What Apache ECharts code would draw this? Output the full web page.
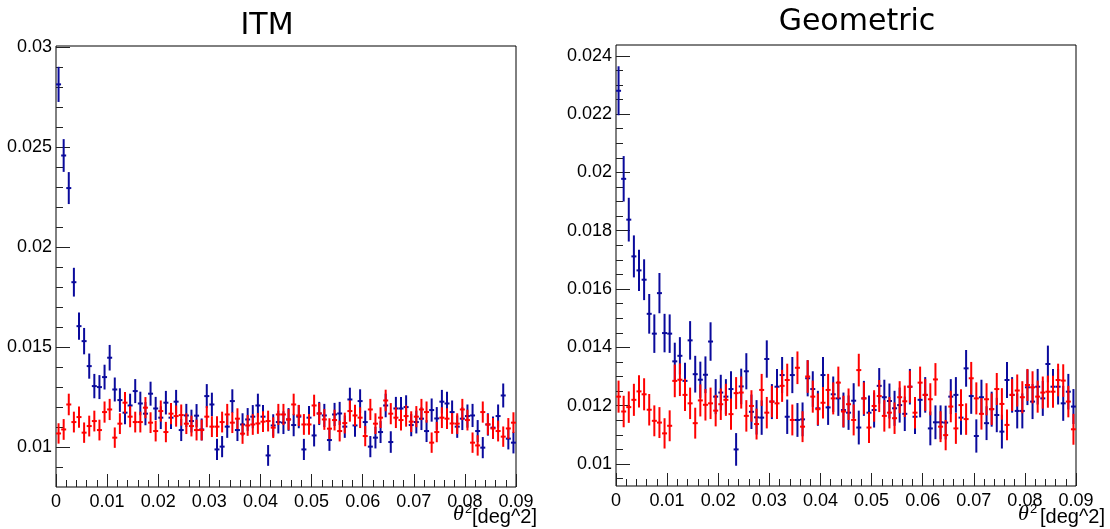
<!DOCTYPE html>
<html>
<head>
<meta charset="utf-8">
<script src="https://cdn.jsdelivr.net/npm/echarts@6/dist/echarts.min.js"></script>
<style>
  html, body { margin: 0; padding: 0; background: #ffffff; }
  #chart { width: 1110px; height: 529px; }
</style>
</head>
<body>
<div id="chart"></div>
<script>
// theta^2 histogram: 90 bins of 0.001 deg^2 from 0 to 0.09
const BIN_WIDTH = 0.001;
const N_BINS = 90;
const thetaSqCenters = Array.from({ length: N_BINS }, (_, i) => +((i + 0.5) * BIN_WIDTH).toFixed(4));

const panelTitles = ['ITM', 'Geometric'];

// tick positions and labels
const xMajorTicks = [0, 0.01, 0.02, 0.03, 0.04, 0.05, 0.06, 0.07, 0.08, 0.09];
const xMinorTicks = [0.002, 0.004, 0.006, 0.008, 0.012, 0.014, 0.016, 0.018, 0.022, 0.024, 0.026, 0.028,
  0.032, 0.034, 0.036, 0.038, 0.042, 0.044, 0.046, 0.048, 0.052, 0.054, 0.056, 0.058,
  0.062, 0.064, 0.066, 0.068, 0.072, 0.074, 0.076, 0.078, 0.082, 0.084, 0.086, 0.088];
const itmYMajorTicks = [0.01, 0.015, 0.02, 0.025, 0.03];
const itmYMinorTicks = [0.009, 0.011, 0.012, 0.013, 0.014, 0.016, 0.017, 0.018, 0.019,
  0.021, 0.022, 0.023, 0.024, 0.026, 0.027, 0.028, 0.029];
const geoYMajorTicks = [0.01, 0.012, 0.014, 0.016, 0.018, 0.02, 0.022, 0.024];
const geoYMinorTicks = [0.0095, 0.0105, 0.011, 0.0115, 0.0125, 0.013, 0.0135, 0.0145, 0.015, 0.0155,
  0.0165, 0.017, 0.0175, 0.0185, 0.019, 0.0195, 0.0205, 0.021, 0.0215, 0.0225, 0.023, 0.0235];

// ITM panel, blue histogram
const itmBlue = [
  0.02815, 0.02459, 0.02296, 0.01825, 0.01605, 0.0153, 0.01405, 0.01305, 0.0130, 0.0135,
  0.01447, 0.01288, 0.01235, 0.01172, 0.01208, 0.0128, 0.01218, 0.01167, 0.01267, 0.01193,
  0.01147, 0.01222, 0.01147, 0.01227, 0.01085, 0.01158, 0.0113, 0.01157, 0.01088, 0.01255,
  0.01213, 0.00988, 0.01002, 0.01102, 0.0123, 0.01085, 0.01113, 0.01138, 0.01152, 0.01208,
  0.01152, 0.00958, 0.01108, 0.01125, 0.01122, 0.01138, 0.0111, 0.01152, 0.00988, 0.01147,
  0.01058, 0.01168, 0.01158, 0.01035, 0.01163, 0.01168, 0.01102, 0.01238, 0.01108, 0.0123,
  0.01125, 0.01002, 0.01047, 0.01075, 0.01208, 0.01025, 0.01193, 0.01193, 0.012, 0.0111,
  0.01125, 0.01142, 0.0108, 0.01185, 0.01143, 0.01227, 0.01218, 0.01175, 0.01102, 0.01142,
  0.01155, 0.01158, 0.0108, 0.00997, 0.01113, 0.01097, 0.01155, 0.01258, 0.01042, 0.01022
];
const itmBlueErr = [
  0.00088, 0.00082, 0.0008, 0.00072, 0.00068, 0.00066, 0.00063, 0.00061, 0.0006, 0.00062,
  0.00064, 0.0006, 0.00059, 0.00058, 0.00059, 0.0006, 0.00059, 0.00058, 0.0006, 0.00058,
  0.00057, 0.00059, 0.00057, 0.00059, 0.00055, 0.00058, 0.00057, 0.00058, 0.00055, 0.0006,
  0.00059, 0.00053, 0.00053, 0.00056, 0.00059, 0.00055, 0.00056, 0.00057, 0.00058, 0.00059,
  0.00058, 0.00052, 0.00056, 0.00057, 0.00057, 0.00057, 0.00056, 0.00058, 0.00053, 0.00058,
  0.00055, 0.00058, 0.00058, 0.00054, 0.00058, 0.00058, 0.00056, 0.00059, 0.00056, 0.00059,
  0.00057, 0.00053, 0.00054, 0.00055, 0.00059, 0.00054, 0.00058, 0.00058, 0.00059, 0.00056,
  0.00057, 0.00057, 0.00055, 0.00058, 0.00057, 0.00059, 0.00059, 0.00058, 0.00056, 0.00057,
  0.00058, 0.00058, 0.00055, 0.00053, 0.00056, 0.00056, 0.00058, 0.0006, 0.00054, 0.00054
];

// ITM panel, red histogram
const itmRed = [
  0.01068, 0.01088, 0.01213, 0.01125, 0.0115, 0.01072, 0.01105, 0.0113, 0.01085, 0.01175,
  0.01188, 0.01047, 0.01117, 0.01222, 0.01152, 0.01125, 0.01125, 0.01197, 0.01122, 0.0108,
  0.0118, 0.01075, 0.01167, 0.01155, 0.0116, 0.01117, 0.01105, 0.01085, 0.01085, 0.01152,
  0.01102, 0.01102, 0.01125, 0.01163, 0.01122, 0.01142, 0.01067, 0.01108, 0.01113, 0.01118,
  0.01127, 0.0113, 0.01097, 0.01163, 0.01163, 0.01138, 0.01213, 0.01158, 0.01113, 0.01113,
  0.01208, 0.01168, 0.01138, 0.01092, 0.01135, 0.0108, 0.0112, 0.0118, 0.01158, 0.01147,
  0.01055, 0.01188, 0.01117, 0.01147, 0.01233, 0.01167, 0.01147, 0.01135, 0.01155, 0.01127,
  0.01152, 0.01188, 0.01175, 0.01022, 0.01075, 0.01147, 0.01142, 0.01118, 0.01117, 0.01188,
  0.01135, 0.01022, 0.01008, 0.01175, 0.01113, 0.01093, 0.0108, 0.01052, 0.01093, 0.01122
];
const itmRedErr = [
  0.00051, 0.00052, 0.00054, 0.00052, 0.00053, 0.00051, 0.00052, 0.00052, 0.00052, 0.00053,
  0.00053, 0.00051, 0.00052, 0.00054, 0.00053, 0.00052, 0.00052, 0.00053, 0.00052, 0.00052,
  0.00053, 0.00051, 0.00053, 0.00053, 0.00053, 0.00052, 0.00052, 0.00052, 0.00052, 0.00053,
  0.00052, 0.00052, 0.00052, 0.00053, 0.00052, 0.00052, 0.00051, 0.00052, 0.00052, 0.00052,
  0.00052, 0.00052, 0.00052, 0.00053, 0.00053, 0.00052, 0.00054, 0.00053, 0.00052, 0.00052,
  0.00054, 0.00053, 0.00052, 0.00052, 0.00052, 0.00052, 0.00052, 0.00053, 0.00053, 0.00052,
  0.00051, 0.00053, 0.00052, 0.00052, 0.00054, 0.00053, 0.00052, 0.00052, 0.00053, 0.00052,
  0.00053, 0.00053, 0.00053, 0.00051, 0.00051, 0.00052, 0.00052, 0.00052, 0.00052, 0.00053,
  0.00052, 0.00051, 0.00051, 0.00053, 0.00052, 0.00052, 0.00052, 0.00051, 0.00052, 0.00052
];

// Geometric panel, blue histogram
const geoBlue = [
  0.0228, 0.01978, 0.01838, 0.01712, 0.01664, 0.01632, 0.01515, 0.01447, 0.01586, 0.01449,
  0.01447, 0.01352, 0.01371, 0.01285, 0.01424, 0.01308, 0.01289, 0.01306, 0.0142, 0.01231,
  0.01245, 0.01231, 0.01257, 0.0105, 0.01266, 0.01318, 0.01179, 0.0116, 0.01159, 0.0136,
  0.01214, 0.01265, 0.01305, 0.01162, 0.01305, 0.01151, 0.01153, 0.01294, 0.01257, 0.01191,
  0.01305, 0.01194, 0.01239, 0.01225, 0.01185, 0.01176, 0.01217, 0.01125, 0.01225, 0.01176,
  0.01185, 0.01268, 0.01229, 0.01216, 0.01191, 0.01202, 0.01172, 0.01265, 0.01162, 0.0122,
  0.01237, 0.01122, 0.01143, 0.01143, 0.01142, 0.01231, 0.01237, 0.01159, 0.01328, 0.01233,
  0.01096, 0.01229, 0.0114, 0.01188, 0.01168, 0.01111, 0.01288, 0.01237, 0.01182, 0.01182,
  0.01263, 0.01214, 0.01265, 0.01225, 0.01343, 0.01265, 0.01265, 0.01208, 0.01248, 0.01197
];
const geoBlueErr = [
  0.00084, 0.00078, 0.00075, 0.00072, 0.00071, 0.0007, 0.00068, 0.00066, 0.00069, 0.00066,
  0.00066, 0.00064, 0.00064, 0.00062, 0.00066, 0.00063, 0.00062, 0.00063, 0.00066, 0.0006,
  0.00061, 0.0006, 0.00061, 0.00056, 0.00061, 0.00062, 0.00059, 0.00059, 0.00059, 0.00064,
  0.0006, 0.00061, 0.00062, 0.00059, 0.00062, 0.00058, 0.00058, 0.00062, 0.00061, 0.0006,
  0.00062, 0.0006, 0.00061, 0.0006, 0.0006, 0.00059, 0.0006, 0.00058, 0.0006, 0.00059,
  0.0006, 0.00061, 0.0006, 0.0006, 0.0006, 0.0006, 0.00059, 0.00061, 0.00059, 0.0006,
  0.00061, 0.00058, 0.00058, 0.00058, 0.00058, 0.0006, 0.00061, 0.00059, 0.00063, 0.00061,
  0.00057, 0.0006, 0.00058, 0.0006, 0.00059, 0.00058, 0.00062, 0.00061, 0.0006, 0.0006,
  0.00061, 0.0006, 0.00061, 0.0006, 0.00063, 0.00061, 0.00061, 0.0006, 0.00061, 0.0006
];

// Geometric panel, red histogram
const geoRed = [
  0.01231, 0.0118, 0.01195, 0.0122, 0.01249, 0.01239, 0.01186, 0.01148, 0.01142, 0.01105,
  0.01131, 0.01285, 0.01289, 0.01237, 0.01208, 0.0114, 0.01218, 0.01203, 0.01208, 0.01183,
  0.01205, 0.0122, 0.01171, 0.01243, 0.01245, 0.01165, 0.01199, 0.01137, 0.01254, 0.01176,
  0.01214, 0.01208, 0.01268, 0.01288, 0.01151, 0.0133, 0.01128, 0.013, 0.01231, 0.01188,
  0.0121, 0.01254, 0.01225, 0.01279, 0.0118, 0.01205, 0.01151, 0.01322, 0.01225, 0.01125,
  0.01199, 0.01233, 0.01165, 0.01176, 0.01157, 0.01229, 0.01215, 0.01265, 0.01176, 0.01279,
  0.01237, 0.01222, 0.0129, 0.01128, 0.01099, 0.01197, 0.01122, 0.01202, 0.01154, 0.01294,
  0.01225, 0.01172, 0.01222, 0.01188, 0.01257, 0.01206, 0.01134, 0.01237, 0.01252, 0.01229,
  0.01271, 0.01263, 0.01231, 0.01245, 0.01248, 0.01248, 0.01288, 0.01286, 0.01214, 0.01119
];
const geoRedErr = [
  0.00055, 0.00054, 0.00054, 0.00055, 0.00055, 0.00055, 0.00054, 0.00053, 0.00053, 0.00052,
  0.00053, 0.00056, 0.00056, 0.00055, 0.00054, 0.00053, 0.00055, 0.00054, 0.00054, 0.00054,
  0.00054, 0.00055, 0.00054, 0.00055, 0.00055, 0.00054, 0.00054, 0.00053, 0.00055, 0.00054,
  0.00054, 0.00054, 0.00055, 0.00056, 0.00053, 0.00056, 0.00053, 0.00056, 0.00055, 0.00054,
  0.00054, 0.00055, 0.00055, 0.00055, 0.00054, 0.00054, 0.00053, 0.00056, 0.00055, 0.00053,
  0.00054, 0.00055, 0.00054, 0.00054, 0.00054, 0.00055, 0.00054, 0.00055, 0.00054, 0.00055,
  0.00055, 0.00055, 0.00056, 0.00053, 0.00052, 0.00054, 0.00053, 0.00054, 0.00054, 0.00056,
  0.00055, 0.00054, 0.00055, 0.00054, 0.00055, 0.00054, 0.00053, 0.00055, 0.00055, 0.00055,
  0.00055, 0.00055, 0.00055, 0.00055, 0.00055, 0.00055, 0.00056, 0.00056, 0.00054, 0.00053
];

const BLUE = '#0a0a9c';
const RED = '#ff0000';
const LABEL_FONT = 'Liberation Sans, Arial, sans-serif';

function fmt(v) { return String(+v.toFixed(4)); }

// vertical error bar with a short horizontal marker at the bin value
function errorBar(color) {
  return function (params, api) {
    const x = api.value(0), y = api.value(1), e = api.value(2);
    const c = api.coord([x, y]);
    const hi = api.coord([x, y + e]);
    const lo = api.coord([x, y - e]);
    const style = { stroke: color, lineWidth: 2 };
    return {
      type: 'group',
      children: [
        { type: 'line', shape: { x1: c[0], y1: hi[1], x2: c[0], y2: lo[1] }, style: style },
        { type: 'line', shape: { x1: c[0] - 2.5, y1: c[1], x2: c[0] + 2.5, y2: c[1] }, style: style }
      ]
    };
  };
}

function histSeries(values, errs, color, axisIdx) {
  return {
    type: 'custom',
    xAxisIndex: axisIdx,
    yAxisIndex: axisIdx,
    clip: true,
    renderItem: errorBar(color),
    encode: { x: 0, y: 1 },
    data: thetaSqCenters.map((x, i) => [x, values[i], errs[i]])
  };
}

function xAxes(gridIndex) {
  return [
    {
      gridIndex, type: 'value', min: 0, max: 0.09, position: 'bottom',
      axisLine: { show: false }, splitLine: { show: false },
      axisTick: { inside: true, length: 13, customValues: xMajorTicks, lineStyle: { color: '#222', width: 1 } },
      axisLabel: { customValues: xMajorTicks, formatter: fmt, fontSize: 18, fontFamily: LABEL_FONT, color: '#000', margin: 6 }
    },
    {
      gridIndex, type: 'value', min: 0, max: 0.09, position: 'bottom',
      axisLine: { show: false }, splitLine: { show: false }, axisLabel: { show: false },
      axisTick: { inside: true, length: 7, customValues: xMinorTicks, lineStyle: { color: '#222', width: 1 } }
    }
  ];
}

function yAxes(gridIndex, min, max, major, minor) {
  return [
    {
      gridIndex, type: 'value', min, max, position: 'left',
      axisLine: { show: false }, splitLine: { show: false },
      axisTick: { inside: true, length: 14, customValues: major, lineStyle: { color: '#222', width: 1 } },
      axisLabel: { customValues: major, formatter: fmt, fontSize: 18, fontFamily: LABEL_FONT, color: '#000', margin: 4 }
    },
    {
      gridIndex, type: 'value', min, max, position: 'left',
      axisLine: { show: false }, splitLine: { show: false }, axisLabel: { show: false },
      axisTick: { inside: true, length: 7, customValues: minor, lineStyle: { color: '#222', width: 1 } }
    }
  ];
}

// "θ²[deg^2]" title under the right end of each x axis
function axisTitle(rightEdge, thetaLeft) {
  return {
    type: 'group',
    children: [
      { type: 'text', style: { x: thetaLeft, y: 525, text: 'θ', font: 'italic 22px "Liberation Serif", serif', fill: '#000', verticalAlign: 'bottom', align: 'left' } },
      { type: 'text', style: { x: thetaLeft + 12, y: 516, text: '2', font: '13px "Liberation Sans", sans-serif', fill: '#000', verticalAlign: 'bottom', align: 'left' } },
      { type: 'text', style: { x: rightEdge, y: 527, text: '[deg^2]', font: '20px "Liberation Sans", sans-serif', fill: '#000', verticalAlign: 'bottom', align: 'right' } }
    ]
  };
}

const chart = echarts.init(document.getElementById('chart'), null, { renderer: 'canvas' });

chart.setOption({
  animation: false,
  backgroundColor: '#ffffff',
  grid: [
    { left: 56, top: 46, width: 460, height: 441, show: true, borderColor: '#000', borderWidth: 1, backgroundColor: 'transparent', containLabel: false, outerBoundsMode: 'none' },
    { left: 616, top: 45, width: 460, height: 441, show: true, borderColor: '#000', borderWidth: 1, backgroundColor: 'transparent', containLabel: false, outerBoundsMode: 'none' }
  ],
  xAxis: [...xAxes(0), ...xAxes(1)],
  yAxis: [
    ...yAxes(0, 0.008, 0.03007, itmYMajorTicks, itmYMinorTicks),
    ...yAxes(1, 0.009245, 0.02437, geoYMajorTicks, geoYMinorTicks)
  ],
  series: [
    histSeries(itmBlue, itmBlueErr, BLUE, 0),
    histSeries(itmRed, itmRedErr, RED, 0),
    histSeries(geoBlue, geoBlueErr, BLUE, 2),
    histSeries(geoRed, geoRedErr, RED, 2)
  ],
  graphic: [
    { type: 'text', style: { x: 267, y: 26, text: panelTitles[0], font: '30px "DejaVu Sans", sans-serif', fill: '#000', align: 'center', verticalAlign: 'middle' } },
    { type: 'text', style: { x: 857, y: 22, text: panelTitles[1], font: '30px "DejaVu Sans", sans-serif', fill: '#000', align: 'center', verticalAlign: 'middle' } },
    axisTitle(537, 453),
    axisTitle(1105, 1018)
  ]
});
</script>
</body>
</html>
